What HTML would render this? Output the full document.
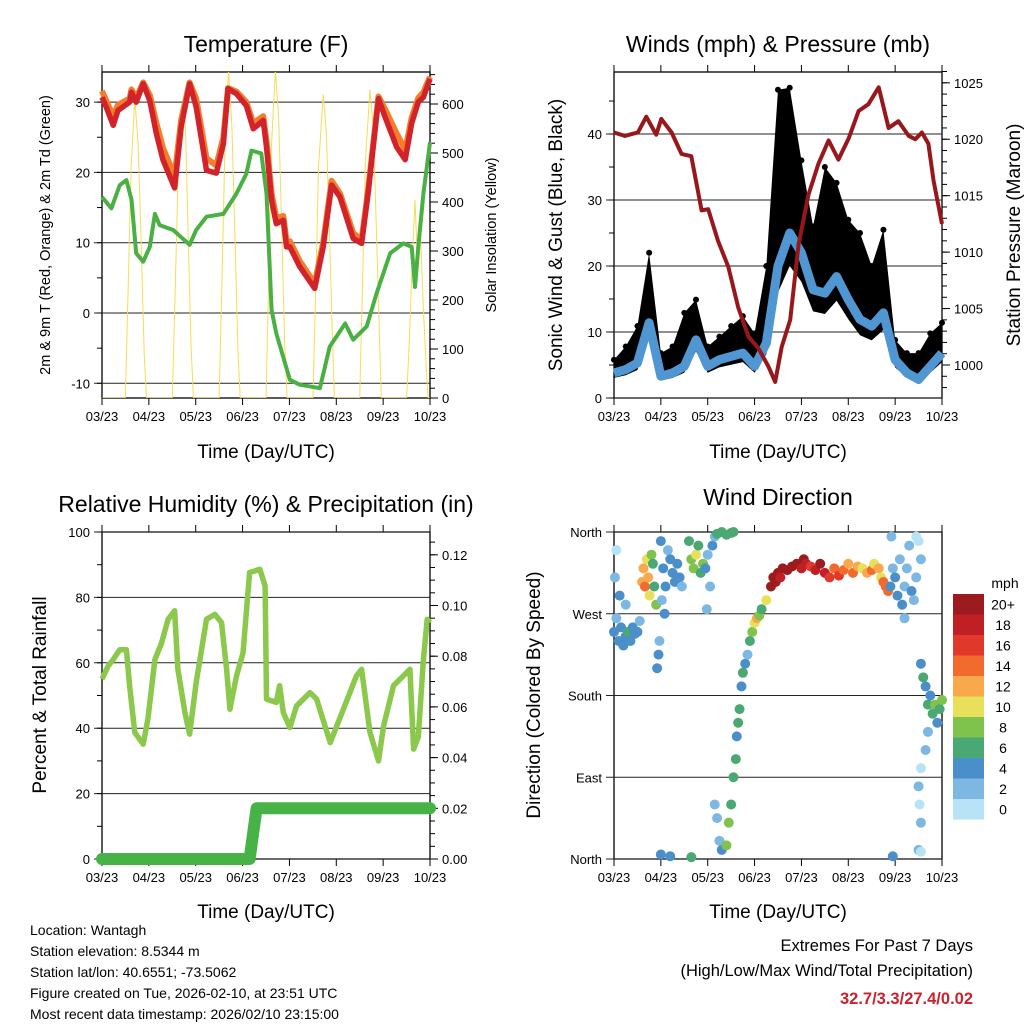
<!DOCTYPE html>
<html><head><meta charset="utf-8"><style>
body{margin:0;background:#fff;}
svg{display:block;font-family:"Liberation Sans",Arial,sans-serif;}
</style></head><body>
<svg id="c" width="1024" height="1024" viewBox="0 0 1024 1024">
<g id="L"></g>
<g>
<text x="266" y="52" font-size="23" text-anchor="middle">Temperature (F)</text>
<text x="778" y="52" font-size="23" text-anchor="middle">Winds (mph) &amp; Pressure (mb)</text>
<text x="266" y="512" font-size="23" text-anchor="middle">Relative Humidity (%) &amp; Precipitation (in)</text>
<text x="778" y="505" font-size="23" text-anchor="middle">Wind Direction</text>
<text x="266" y="458" font-size="19" text-anchor="middle">Time (Day/UTC)</text>
<text x="778" y="458" font-size="19" text-anchor="middle">Time (Day/UTC)</text>
<text x="266" y="918" font-size="19" text-anchor="middle">Time (Day/UTC)</text>
<text x="778" y="918" font-size="19" text-anchor="middle">Time (Day/UTC)</text>
<text transform="translate(50,235) rotate(-90)" font-size="14.5" text-anchor="middle">2m &amp; 9m T (Red, Orange) &amp; 2m Td (Green)</text>
<text transform="translate(496,235) rotate(-90)" font-size="14.5" text-anchor="middle">Solar Insolation (Yellow)</text>
<text transform="translate(562,235) rotate(-90)" font-size="19" text-anchor="middle">Sonic Wind &amp; Gust (Blue, Black)</text>
<text transform="translate(1020,235) rotate(-90)" font-size="19" text-anchor="middle">Station Pressure (Maroon)</text>
<text transform="translate(46,695) rotate(-90)" font-size="19" text-anchor="middle">Percent &amp; Total Rainfall</text>
<text transform="translate(540,695) rotate(-90)" font-size="19" text-anchor="middle">Direction (Colored By Speed)</text>
</g>
<g font-size="14">
<text x="30" y="935">Location: Wantagh</text>
<text x="30" y="956">Station elevation: 8.5344 m</text>
<text x="30" y="977">Station lat/lon: 40.6551; -73.5062</text>
<text x="30" y="998">Figure created on Tue, 2026-02-10, at 23:51 UTC</text>
<text x="30" y="1019">Most recent data timestamp: 2026/02/10 23:15:00</text>
</g>
<g text-anchor="end">
<text x="973" y="951" font-size="16.5">Extremes For Past 7 Days</text>
<text x="973" y="976" font-size="16.5">(High/Low/Max Wind/Total Precipitation)</text>
<text x="973" y="1004" font-size="16.5" font-weight="bold" fill="#c8232c">32.7/3.3/27.4/0.02</text>
</g>
</svg>
<script>
// ---------- data ----------
const xTickLabels=["03/23","04/23","05/23","06/23","07/23","08/23","09/23","10/23"];
const tempT=[0,0.09,0.24,0.34,0.59,0.63,0.73,0.88,1.02,1.16,1.3,1.55,1.69,1.87,2.01,2.23,2.44,2.59,2.69,2.87,3.08,3.23,3.44,3.51,3.62,3.72,3.87,3.94,4.01,4.22,4.54,4.72,4.9,5.08,5.36,5.54,5.68,5.9,6.04,6.29,6.47,6.61,6.75,6.86,7];
const tempRed=[30.7,29.3,26.7,28.8,30,31.4,30,32.6,30.2,25.5,21.8,17.8,26.5,32.6,29.3,20.3,19.9,24.1,31.9,31.2,29.5,26.2,27.4,23.6,16,12.7,13.2,9.4,9.4,6.6,3.5,9.4,18.2,16.5,10.6,9.9,17,30.5,27.9,23.6,21.8,27,30,30.7,33.3];
const tempOrange=[31.6,30.2,28,29.6,30.5,31.8,30.6,32.8,31,27,23.5,19.5,27.5,32.8,30.5,22,21,25,32,31.5,30,27,28,24.5,17,13.5,13.8,10.2,10.2,7.4,4.2,10,18.8,17,11.4,10.4,17.5,30.8,29,25.5,23.2,27.8,30.6,31.4,33.6];
const tdT=[0,0.2,0.38,0.52,0.63,0.73,0.88,1.02,1.13,1.23,1.52,1.87,2.01,2.23,2.59,2.87,3.08,3.19,3.4,3.51,3.62,3.72,4.01,4.22,4.65,4.86,5.19,5.36,5.65,5.86,6.15,6.43,6.61,6.68,6.75,6.86,7];
const tdVal=[16.5,14.9,18.2,18.9,16.1,8.5,7.3,9.4,14.1,12.5,11.8,9.7,11.8,13.7,14.1,17,19.8,23.1,22.7,17,0.4,-2.9,-9.5,-10.2,-10.7,-4.8,-1.5,-3.8,-1.9,2.8,8.5,9.9,9.4,3.7,9.4,17,24.3];
const solarT=[0,0.5,0.56,0.62,0.7,0.77,0.84,0.9,0.95,1.5,1.56,1.62,1.72,1.78,1.84,1.9,1.95,2.5,2.56,2.62,2.7,2.77,2.84,2.9,2.95,3.5,3.56,3.62,3.7,3.77,3.84,3.9,3.95,4.5,4.56,4.62,4.72,4.79,4.86,4.92,4.96,5.5,5.56,5.62,5.72,5.79,5.86,5.92,5.96,6.5,6.56,6.62,6.68,6.74,6.8,6.86,6.92,6.96,7];
const solarVal=[0,0,230,470,610,520,300,90,0,0,210,440,600,560,330,110,0,0,240,500,670,560,320,100,0,0,250,520,670,570,330,110,0,0,220,470,620,540,320,120,0,0,230,480,630,550,330,130,0,0,120,280,404,260,330,180,60,0,0];
const pressT=[0,0.23,0.51,0.69,0.9,1.01,1.23,1.44,1.65,1.87,2.01,2.22,2.44,2.65,2.87,3.08,3.29,3.44,3.58,3.76,3.94,4.15,4.36,4.58,4.79,5.01,5.22,5.43,5.65,5.86,6.07,6.29,6.43,6.57,6.71,6.82,7];
const pressVal=[1020.6,1020.3,1020.6,1022,1020.4,1021.8,1020.6,1018.7,1018.5,1013.7,1013.8,1011,1008.7,1005.1,1002.5,1001.5,999.9,998.5,1001.6,1004,1010.7,1015.1,1017.8,1019.9,1018.2,1020.1,1022.5,1023.1,1024.6,1021,1021.6,1020.3,1020,1020.6,1019.6,1016.3,1012.5];
const windT=[0,0.25,0.5,0.75,1,1.25,1.5,1.75,2,2.25,2.5,2.75,3,3.25,3.5,3.75,4,4.25,4.5,4.75,5,5.25,5.5,5.75,6,6.25,6.5,6.75,7];
const windVal=[3.8,4.3,5.3,11.4,3.3,3.8,4.8,8.8,4.8,5.8,6.3,6.8,4.8,8.3,20,25,22,16.4,15.9,18.4,14.9,11.9,10.9,12.9,5.8,3.8,2.8,4.8,6.8];
const gustVal=[5.8,7.8,10.9,22,6.8,7.8,12.9,14.9,7.8,9.3,10.9,12.4,9.8,20,46.7,47,36,26,35,32.6,27,25,20,25.5,8.8,6.8,6.8,9.8,11.4];
const rhT=[0,0.13,0.24,0.38,0.52,0.59,0.7,0.88,0.98,1.13,1.27,1.41,1.55,1.62,1.77,1.87,2.01,2.23,2.41,2.55,2.66,2.73,2.87,3.01,3.15,3.37,3.48,3.51,3.72,3.79,3.87,4.01,4.15,4.44,4.58,4.87,5.01,5.29,5.43,5.54,5.72,5.9,6.01,6.22,6.43,6.57,6.65,6.75,6.86,6.94,7];
const rhVal=[55,59,61,64,64,53,38.7,35.1,42.8,61,66,73.3,75.9,58,44.8,38.2,54,73.3,74.8,72.3,58,45.8,56,63,87.6,88.6,83.5,48.9,47.9,53,44.8,40.2,46.8,50.9,48.9,35.6,40.7,50.9,56,58,38.7,30,40.7,53,56,58,33.6,37.3,61,73.3,72.3];
const precipT=[0,3.15,3.3,7];
const precipVal=[0,0,0.02,0.02];
const dirT=[0,0.05,0.1,0.15,0.2,0.25,0.3,0.35,0.4,0.45,0.5,0.55,0.02,0.05,0.12,0.25,
0.6,0.63,0.66,0.7,0.73,0.76,0.8,0.83,0.86,0.9,0.92,0.95,0.97,
1,1.05,1.1,1.15,1.2,1.25,1.3,1.35,1.4,1.45,1.02,1.08,1,1.2,
1.6,1.65,1.7,1.75,1.8,1.85,1.9,1.95,2,2.05,2.1,2.15,1.98,
2.2,2.3,2.4,2.5,2.55,1.65,2.15,2.2,2.25,2.3,2.4,2.45,2.5,2.55,
2.6,2.62,2.65,2.68,2.72,2.75,2.8,2.85,2.9,2.95,3,3.05,3.1,3.15,3.25,
3.35,3.4,3.45,3.5,3.55,3.6,3.7,3.8,3.9,4,4.05,4.1,4.2,4.3,4.4,4.5,4.6,4.7,4.8,4.9,5,5.1,5.2,5.3,5.4,5.5,5.55,5.65,5.7,5.75,5.8,5.85,
5.9,5.95,6,6.05,6.1,6.15,6.2,6.25,6.3,6.35,6.4,6.45,6.5,6.55,6.2,5.92,6.45,
6.55,6.6,6.65,6.7,6.75,6.8,6.85,6.9,6.95,7,6.7,6.65,6.55,6.5,6.52,6.55,6.5,6.55,5.95];
const dirDeg=[250,265,240,255,235,245,250,240,255,248,250,262,310,340,290,280,
305,320,300,330,310,290,335,325,300,280,210,225,240,
350,320,300,340,330,315,305,325,310,300,285,270,5,3,
350,330,320,335,345,315,325,320,335,300,345,355,275,
358,360,357,359,360,2,60,45,20,10,15,40,60,90,
110,135,150,165,190,205,215,225,240,250,260,265,268,275,285,
300,310,305,315,310,320,318,322,325,320,330,325,322,318,325,315,310,320,312,318,325,315,322,320,315,318,325,320,310,305,300,295,
300,320,310,290,330,280,300,320,345,295,285,310,350,330,265,355,355,
215,200,190,170,180,160,170,150,165,175,140,120,100,80,60,40,10,8,3];
const dirSpd=[4,3,4,5,4,4,6,4,4,5,4,3,2,1,4,3,
12,13,14,11,12,10,9,7,6,8,4,4,3,
4,4,4,3,4,4,5,4,4,3,3,4,4,4,
7,8,9,10,7,6,8,4,3,2,4,3,2,
6,6,6,6,6,6,2,2,3,4,8,8,6,6,
6,4,6,7,4,6,5,2,7,8,10,12,8,7,11,
20,21,20,22,19,21,20,21,20,19,20,18,16,18,20,19,17,15,17,14,12,15,12,11,13,14,11,12,10,14,15,14,
4,3,4,4,2,4,3,2,2,4,2,3,1,2,3,2,1,
4,6,5,6,4,6,8,5,7,9,3,2,1,2,1,2,2,1,4];
const speedColors=["#b8e3f7","#7db8e3","#4a8fc9","#4aa872","#7fc24c","#e8e05a","#f9a94b","#f26a2c","#e0392b","#c11f26","#9b1b1e"];
const speedLabels=["0","2","4","6","8","10","12","14","16","18","20+"];

// ---------- helpers ----------
const NS="http://www.w3.org/2000/svg";
const layer=document.getElementById('L');
function mk(tag,attrs,parent){const e=document.createElementNS(NS,tag);for(const k in attrs)e.setAttribute(k,attrs[k]);(parent||layer).appendChild(e);return e;}
function lin(d0,d1,r0,r1){return v=>r0+(v-d0)*(r1-r0)/(d1-d0);}
function pathOf(xs,ys,fx,fy){return xs.map((t,i)=>(i?'L':'M')+fx(t).toFixed(1)+' '+fy(ys[i]).toFixed(1)).join(' ');}

function frame(x0,y0,x1,y1,name,fx){
  const g=mk('g',{});
  
  
  mk('rect',{x:x0,y:y0,width:x1-x0,height:y1-y0,fill:'none',stroke:'#000','stroke-width':1.3},g);
  xTickLabels.forEach((lb,i)=>{
    const x=fx(i);
    mk('line',{x1:x,x2:x,y1:y1,y2:y1+7,stroke:'#000'},g);
    mk('line',{x1:x,x2:x,y1:y0,y2:y0-7,stroke:'#000'},g);
    const t=mk('text',{x:x,y:y1+23,'font-size':13,'text-anchor':'middle'},g);t.textContent=lb;
    
    
  });
  return g;
}
function leftAxis(g,vals,labels,fy,x0,x1,minor,grid){
  vals.forEach((v,i)=>{
    const y=fy(v);
    if(grid) mk('line',{x1:x0-8,x2:x1,y1:y,y2:y,stroke:'#222','stroke-width':1},g);
    else mk('line',{x1:x0-8,x2:x0,y1:y,y2:y,stroke:'#000'},g);
    const t=mk('text',{x:x0-12,y:y+5,'font-size':13,'text-anchor':'end'},g);t.textContent=labels[i];
    
    
  });
  (minor||[]).forEach(v=>{const y=fy(v);mk('line',{x1:x0-5,x2:x0,y1:y,y2:y,stroke:'#000'},g);});
}
function rightAxis(g,vals,labels,fy,x1,minor){
  vals.forEach((v,i)=>{
    const y=fy(v);
    mk('line',{x1:x1,x2:x1+8,y1:y,y2:y,stroke:'#000'},g);
    const t=mk('text',{x:x1+12,y:y+5,'font-size':13},g);t.textContent=labels[i];
    
    
  });
  (minor||[]).forEach(v=>{const y=fy(v);mk('line',{x1:x1,x2:x1+5,y1:y,y2:y,stroke:'#000'},g);});
}
function range(a,b,s){const r=[];for(let v=a;v<=b+1e-9;v+=s)r.push(+v.toFixed(4));return r;}

// ---------- Temperature ----------
(function(){
  const fx=lin(0,7,102,430), fy=lin(0,10,313,242.7), fs=lin(0,600,398,104);
  const g=frame(102,72,430,398,'temperature',fx);
  leftAxis(g,[-10,0,10,20,30],["-10","0","10","20","30"],fy,102,430,range(-10,30,5),true);
  rightAxis(g,range(0,600,100),range(0,600,100).map(String),fs,430,range(0,660,20));
  const cp=mk('clipPath',{id:'cpT'});mk('rect',{x:102,y:72,width:328,height:326},cp);
  const s=mk('path',{d:pathOf(solarT,solarVal,fx,fs),fill:'none',stroke:'#f7dc55','stroke-width':1,'clip-path':'url(#cpT)'});
  
  const td=mk('path',{d:pathOf(tdT,tdVal,fx,fy),fill:'none',stroke:'#4bb043','stroke-width':4,'stroke-linejoin':'round'});
  
  const o=mk('path',{d:pathOf(tempT,tempOrange,fx,fy),fill:'none',stroke:'#f47d2c','stroke-width':6,'stroke-linejoin':'round'});
  
  const r=mk('path',{d:pathOf(tempT,tempRed,fx,fy),fill:'none',stroke:'#d2222a','stroke-width':5.5,'stroke-linejoin':'round'});
  
})();

// ---------- Winds ----------
(function(){
  const fx=lin(0,7,614,942), fy=lin(0,10,398,332), fp=lin(1000,1025,365,82.8);
  const g=frame(614,72,942,398,'winds',fx);
  leftAxis(g,[0,10,20,30,40],["0","10","20","30","40"],fy,614,942,range(0,45,5),true);
  rightAxis(g,range(1000,1025,5),range(1000,1025,5).map(String),fp,942,range(998,1026,1));
  const top=windT.map((t,i)=>fx(t).toFixed(1)+','+fy(gustVal[i]).toFixed(1));
  const bot=windT.map((t,i)=>fx(t).toFixed(1)+','+fy(windVal[i]*0.8).toFixed(1)).reverse();
  const a=mk('polygon',{points:top.concat(bot).join(' '),fill:'#000'});
  
  windT.forEach((t,i)=>{
    const c=mk('circle',{cx:fx(t),cy:fy(gustVal[i]),r:3,fill:'#000'});
    
    
  });
  const w=mk('path',{d:pathOf(windT,windVal,fx,fy),fill:'none',stroke:'#4f96d2','stroke-width':9,'stroke-linejoin':'round'});
  
  const p=mk('path',{d:pathOf(pressT,pressVal,fx,fp),fill:'none',stroke:'#98171b','stroke-width':4,'stroke-linejoin':'round'});
  
})();

// ---------- RH & Precip ----------
(function(){
  const fx=lin(0,7,102,430), fy=lin(0,100,859,532), fp=lin(0,0.02,859,808.3);
  const g=frame(102,532,430,859,'humidity',fx);
  leftAxis(g,range(0,100,20),range(0,100,20).map(String),fy,102,430,range(0,100,10),true);
  rightAxis(g,range(0,0.12,0.02),range(0,0.12,0.02).map(v=>v.toFixed(2)),fp,430,range(0,0.128,0.005));
  const r=mk('path',{d:pathOf(rhT,rhVal,fx,fy),fill:'none',stroke:'#8cc84b','stroke-width':5.5,'stroke-linejoin':'round'});
  
  const p=mk('path',{d:pathOf(precipT,precipVal,fx,fp),fill:'none',stroke:'#47b347','stroke-width':12,'stroke-linecap':'round','stroke-linejoin':'round'});
  
})();

// ---------- Wind direction ----------
(function(){
  const fx=lin(0,7,614,942), fy=lin(0,360,859,532);
  const g=frame(614,532,942,859,'direction',fx);
  leftAxis(g,[0,90,180,270,360],["North","East","South","West","North"],fy,614,942,null,true);
  dirT.forEach((t,i)=>{
    const bin=Math.min(10,Math.max(0,Math.floor(dirSpd[i]/2)));
    const c=mk('circle',{cx:fx(t),cy:fy(dirDeg[i]),r:5,fill:speedColors[bin]});
    
    
  });
  const lg=mk('g',{});
  
  
  const m=mk('text',{x:1005,y:588,'font-size':14,'text-anchor':'middle'},lg);m.textContent='mph';
  for(let k=10;k>=0;k--){
    const y=594+(10-k)*20.5;
    mk('rect',{x:953,y:y,width:31,height:20.6,fill:speedColors[k]},lg);
    const t=mk('text',{x:1003,y:y+15.5,'font-size':14,'text-anchor':'middle'},lg);t.textContent=speedLabels[k];
    
    
  }
})();
</script>
</body></html>
